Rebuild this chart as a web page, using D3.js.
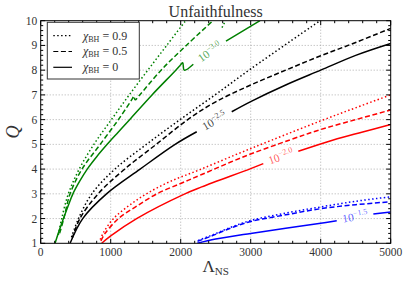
<!DOCTYPE html>
<html><head><meta charset="utf-8">
<script src="https://cdn.jsdelivr.net/npm/d3@7"></script>
<style>body{margin:0;background:#fff} svg{display:block}</style>
</head><body>
<svg id="c" width="407" height="284"></svg>
<script>
// ---- data ----
const xTicks = [0, 1000, 2000, 3000, 4000, 5000];
const yTicks = [1, 2, 3, 4, 5, 6, 7, 8, 9, 10];
const spinLabels = ["0.9", "0.5", "0"];
const levels = ["\u22123.0", "\u22122.5", "\u22122.0", "\u22121.5"];

// unfaithfulness 10^-3.0 (green)
const green09 = [[252,1.34],[300,2],[395,3],[550,4],[760,5],[1010,6],[1265,7],[1530,8],[1800,9],[2070,10],null,[2590,9.72],[2640,10]];
const green05 = [[270,1.4],[330,2],[420,3],[590,4],[850,5],[1110,6],[1310,6.85],[1330,6.95],[1350,6.8],[1400,6.95],[1720,8],[2080,9],[2460,10]];
const green00 = [[205,1],[262,1.5],[325,2],[390,2.5],[460,3],[555,3.5],[665,4],[800,4.5],[950,5],[1110,5.5],[1270,6],[1590,7],[1930,8],[2000,8.22],[2029,8.3],[2051,8.0],[2180,8.24],null,[2647,9.17],[3133,10]];
// 10^-2.5 (black)
const black09 = [[440,1.25],[540,2],[730,3],[1060,4],[1510,5],[1990,6],[2500,7.02],[3000,8.05],[3990,10]];
const black05 = [[450,1.2],[560,2],[820,3],[1200,4],[1650,5],[2100,6],[2500,6.72],[3000,7.4],[3500,8.0],[4000,8.58],[4500,9.12],[5000,9.69]];
const black00 = [[420,1],[600,2],[940,3],[1420,4],[1920,5],[2229,5.51],null,[2729,6.32],[3000,6.73],[3500,7.4],[4000,8.0],[4500,8.6],[5000,9.08]];
// 10^-2.0 (red)
const red09 = [[850,1.15],[900,1.45],[1040,2],[1250,2.5],[1510,3],[1850,3.5],[2276,3.98],[2800,4.6],[3300,5.17],[4000,5.95],[4500,6.48],[5000,7.0]];
const red05 = [[860,1.1],[920,1.4],[1110,2],[1370,2.5],[1660,3],[2000,3.42],[2300,3.78],[2900,4.5],[3560,5.18],[4000,5.6],[4500,6.0],[5000,6.39]];
const red00 = [[871,1],[1000,1.3],[1370,2],[2060,3],[2300,3.28],[3000,4.02],[3180,4.22],null,[3680,4.72],[4180,5.18],[4600,5.5],[5000,5.8]];
// 10^-1.5 (blue)
const blue09 = [[2250,1.12],[2420,1.3],[2700,1.63],[3000,1.92],[3500,2.22],[4000,2.47],[4500,2.7],[5000,2.88]];
const blue05 = [[2240,1.08],[2420,1.27],[2700,1.6],[3000,1.88],[3500,2.15],[4000,2.4],[4500,2.56],[5000,2.68]];
const blue00 = [[2237,1],[2500,1.17],[3000,1.4],[3500,1.61],[4000,1.81],[4229,1.91],null,[4752,2.18],[5000,2.27]];

// ---- layout ----
const svg = d3.select("#c");
const L = 40.7, T = 20.7, R = 390.7, B = 243.3;
const x = d3.scaleLinear().domain([0, 5000]).range([L, R]);
const y = d3.scaleLinear().domain([1, 10]).range([B, T]);
const serif = "'Liberation Serif','DejaVu Serif',serif";
const textCol = "#333";

// grid
const grid = svg.append("g").attr("stroke", "#9a9a9a").attr("stroke-width", 0.8).attr("stroke-dasharray", "1,2");
xTicks.slice(1, -1).forEach(v => grid.append("line").attr("x1", x(v)).attr("x2", x(v)).attr("y1", T).attr("y2", B));
yTicks.slice(1, -1).forEach(v => grid.append("line").attr("y1", y(v)).attr("y2", y(v)).attr("x1", L).attr("x2", R));

// curves
const styles = [
  {dash: "1.5,2.4"},
  {dash: "5,2.6"},
  {dash: null}
];
const groups = [
  {color: "#008000", series: [green09, green05, green00]},
  {color: "#000000", series: [black09, black05, black00]},
  {color: "#ff0000", series: [red09, red05, red00]},
  {color: "#0000ff", series: [blue09, blue05, blue00]}
];
const line = d3.line().defined(d => d !== null).x(d => x(d[0])).y(d => y(d[1]))
  .curve(d3.curveCatmullRom.alpha(0.5));
svg.append("clipPath").attr("id", "pc").append("rect")
  .attr("x", L).attr("y", T).attr("width", R - L).attr("height", B - T);
const curves = svg.append("g").attr("clip-path", "url(#pc)");
groups.forEach((g, gi) => {
  g.series.forEach((s, si) => {
    curves.append("path").attr("d", line(s)).attr("fill", "none")
      .attr("stroke", g.color).attr("stroke-width", 1.5)
      .attr("stroke-dasharray", styles[si].dash);
  });
  // contour label in the gap of the solid line
  const s = g.series[2];
  const k = s.indexOf(null);
  const a = s[k - 1], b = s[k + 1];
  const px = (x(a[0]) + x(b[0])) / 2, py = (y(a[1]) + y(b[1])) / 2;
  const ang = Math.atan2(y(b[1]) - y(a[1]), x(b[0]) - x(a[0])) * 180 / Math.PI;
  const t = svg.append("text").attr("transform", `translate(${px},${py - 1}) rotate(${ang})`)
    .attr("text-anchor", "middle").attr("dy", "0.35em")
    .attr("font-family", serif).attr("font-size", 11.5)
    .attr("fill", g.color).attr("fill-opacity", gi === 1 ? 0.75 : 0.65);
  t.append("tspan").text("10");
  t.append("tspan").attr("font-size", 8).attr("dy", -4.5).text(levels[gi]);
});

// frame & ticks
const ax = svg.append("g").attr("stroke", "#000").attr("stroke-width", 1);
ax.append("rect").attr("x", L).attr("y", T).attr("width", R - L).attr("height", B - T).attr("fill", "none");
const xMinor = d3.range(0, 5001, 200), yMinor = d3.range(1, 10.001, 0.2);
xMinor.forEach(v => {
  const len = (v % 1000 === 0) ? 4.5 : 2.5;
  ax.append("line").attr("x1", x(v)).attr("x2", x(v)).attr("y1", B).attr("y2", B - len);
  ax.append("line").attr("x1", x(v)).attr("x2", x(v)).attr("y1", T).attr("y2", T + len);
});
yMinor.forEach(v => {
  const major = Math.abs(v - Math.round(v)) < 1e-6;
  const len = major ? 4.5 : 2.5;
  ax.append("line").attr("y1", y(v)).attr("y2", y(v)).attr("x1", L).attr("x2", L + len);
  ax.append("line").attr("y1", y(v)).attr("y2", y(v)).attr("x1", R).attr("x2", R - len);
});
// tick labels
xTicks.forEach(v => svg.append("text").attr("x", x(v)).attr("y", B + 13).attr("text-anchor", "middle")
  .attr("font-family", serif).attr("font-size", 11.5).attr("fill", textCol).text(v));
yTicks.forEach(v => svg.append("text").attr("x", L - 3.5).attr("y", y(v)).attr("dy", "0.35em").attr("text-anchor", "end")
  .attr("font-family", serif).attr("font-size", 11.5).attr("fill", textCol).text(v));

// title & axis labels
svg.append("text").attr("x", (L + R) / 2).attr("y", 16.5).attr("text-anchor", "middle")
  .attr("font-family", serif).attr("font-size", 16).attr("fill", textCol).text("Unfaithfulness");
const xl = svg.append("text").attr("x", (L + R) / 2).attr("y", 272).attr("text-anchor", "middle")
  .attr("font-family", serif).attr("font-size", 17).attr("fill", textCol);
xl.append("tspan").text("\u039b");
xl.append("tspan").attr("font-size", 11).attr("dy", 3).text("NS");
svg.append("text").attr("transform", `translate(19,${(T + B) / 2}) rotate(-90)`).attr("text-anchor", "middle")
  .attr("font-family", serif).attr("font-style", "italic").attr("font-size", 18).attr("fill", textCol).text("Q");

// legend
const lg = svg.append("g");
lg.append("rect").attr("x", 47.3).attr("y", 22.3).attr("width", 92).attr("height", 56.7)
  .attr("fill", "#fff").attr("stroke", "#333").attr("stroke-width", 1);
spinLabels.forEach((s, i) => {
  const yy = 35.7 + i * 15.8;
  lg.append("line").attr("x1", 53.3).attr("x2", 72).attr("y1", yy).attr("y2", yy)
    .attr("stroke", "#000").attr("stroke-width", 1.2).attr("stroke-dasharray", styles[i].dash);
  const t = lg.append("text").attr("x", 83).attr("y", yy + 3.8).attr("font-family", serif)
    .attr("font-size", 12).attr("fill", textCol);
  t.append("tspan").attr("font-style", "italic").text("\u03c7");
  t.append("tspan").attr("font-size", 8).attr("dy", 2).text("BH");
  t.append("tspan").attr("dy", -2).text(" = " + s);
});
</script>
</body></html>
